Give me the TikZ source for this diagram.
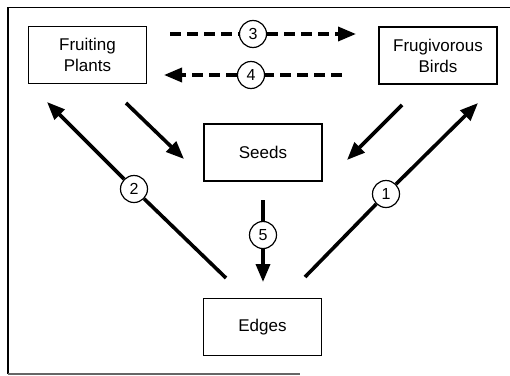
\documentclass[tikz,border=0pt]{standalone}
\usepackage{fontspec}
\setmainfont{Liberation Sans}
\usetikzlibrary{arrows.meta}
\begin{document}
\begin{tikzpicture}[x=1pt,y=-1pt,
  box/.style={draw,line width=1.8pt,minimum width=118pt,minimum height=57pt,align=center,font=\fontsize{17}{21}\selectfont,inner sep=0pt},
  num/.style={draw,circle,line width=1.2pt,minimum size=27pt,inner sep=0pt,font=\fontsize{16}{16}\selectfont},
  conn/.style={line width=3.6pt,-{Triangle[length=18pt,width=14pt]}},
  dconn/.style={conn,dash pattern=on 11pt off 6pt}]
\useasboundingbox (0,0) rectangle (510,375);
% frame
\draw[line width=1.8pt] (510,7.5) -- (8,7.5) -- (8,374);
\draw[line width=1.2pt,black!60] (8,374) -- (300,374);
% boxes
\node[box] (fp) at (87.5,55) {Fruiting\\Plants};
\node[box] (fb) at (438,55.5) {Frugivorous\\Birds};
\node[box] (sd) at (263,152.5) {Seeds};
\node[box] (ed) at (262.5,327) {Edges};
% coordinates for free ends
\coordinate (a3s) at (170,34);
\coordinate (a3e) at (356,34);
\coordinate (a4s) at (342,75);
\coordinate (a4e) at (164,75);
\coordinate (fps) at (126,103);
\coordinate (fpe) at (184,159);
\coordinate (fbs) at (402,105);
\coordinate (fbe) at (347,160);
\coordinate (a2s) at (226,278);
\coordinate (a2e) at (47,102);
\coordinate (a1s) at (305,277);
\coordinate (a1e) at (478,103);
\coordinate (a5s) at (263,200);
\coordinate (a5e) at (263,282);
% number circles
\node[num] (c3) at (253,34) {3};
\node[num] (c4) at (251,75) {4};
\node[num] (c2) at (134,189) {2};
\node[num] (c1) at (386,194) {1};
\node[num] (c5) at (263,235) {5};
% connectors
\draw[dconn] (a3s) -- (c3) -- (a3e);
\draw[dconn] (a4s) -- (c4) -- (a4e);
\draw[conn] (fps) -- (fpe);
\draw[conn] (fbs) -- (fbe);
\draw[conn] (a2s) -- (c2) -- (a2e);
\draw[conn] (a1s) -- (c1) -- (a1e);
\draw[conn] (a5s) -- (c5) -- (a5e);
\end{tikzpicture}
\end{document}
